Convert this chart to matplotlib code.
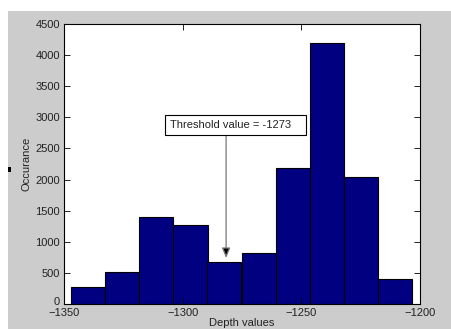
import matplotlib.pyplot as plt
import matplotlib.transforms as mtransforms
from matplotlib.patches import Rectangle

# histogram
bin_centers = [-1339.7, -1325.4, -1311.1, -1296.7, -1282.4,
               -1268.0, -1253.7, -1239.3, -1225.0, -1210.6]
counts = [279, 510, 1405, 1276, 681, 815, 2183, 4189, 2038, 397]
bin_width = 14.36

x_ticks = [-1350, -1300, -1250, -1200]
y_ticks = [0, 500, 1000, 1500, 2000, 2500, 3000, 3500, 4000, 4500]

threshold_label = 'Threshold value = -1273'
arrow_x = -1281.7
arrow_tip = 740
arrow_start = 2700

plt.rcParams['font.family'] = ['Liberation Sans', 'DejaVu Sans']

fig = plt.figure(figsize=(4.51, 3.29), dpi=100, facecolor='white')
# grey MATLAB-style figure background, shifted a bit like the screenshot
fig.patches.append(Rectangle((8 / 451, 0), 1 - 8 / 451, 318 / 329,
                             transform=fig.transFigure, facecolor='#cccccc',
                             edgecolor='none', zorder=-1))
fig.patches.append(Rectangle((8 / 451, 157 / 329), 3 / 451, 5 / 329,
                             transform=fig.transFigure, facecolor='black',
                             edgecolor='none', zorder=0))

ax = fig.add_axes([64 / 451, 1 - 304 / 329, 356 / 451, 280 / 329])
ax.bar(bin_centers, counts, width=bin_width, color='#000080',
       edgecolor='black', linewidth=0.8)

ax.set_xlim(-1350, -1200)
ax.set_ylim(0, 4500)
ax.set_xticks(x_ticks)
ax.set_yticks(y_ticks)
ax.tick_params(direction='in', top=True, right=True, length=4, width=0.6,
               labelsize=8, labelcolor='#222222')
ax.tick_params(axis='x', pad=3)
ax.tick_params(axis='y', pad=3)
for s in ax.spines.values():
    s.set_linewidth(0.8)

# nudge the "0" label up a touch so it clears "-1350"
zero_lbl = ax.yaxis.get_major_ticks()[0].label1
zero_lbl.set_transform(zero_lbl.get_transform() +
                       mtransforms.ScaledTranslation(0, 2.5 / 72, fig.dpi_scale_trans))

ax.set_xlabel('Depth values', fontsize=8, labelpad=0, color='#222222')
ax.set_ylabel('Occurance', fontsize=8, labelpad=3, color='#222222')

ax.annotate('', xy=(arrow_x, arrow_tip), xytext=(arrow_x, arrow_start),
            arrowprops=dict(arrowstyle='-|>,head_length=0.6,head_width=0.25',
                            color='#777777', fc='black', ec='#777777',
                            lw=0.9, shrinkA=0, shrinkB=0))
ax.text(-1305.3, 2877, threshold_label + '   ', fontsize=8, ha='left',
        va='center', color='#222222',
        bbox=dict(boxstyle='square,pad=0.45', fc='white', ec='black', lw=0.8))

fig.savefig('out.png', dpi=100, facecolor='white')
